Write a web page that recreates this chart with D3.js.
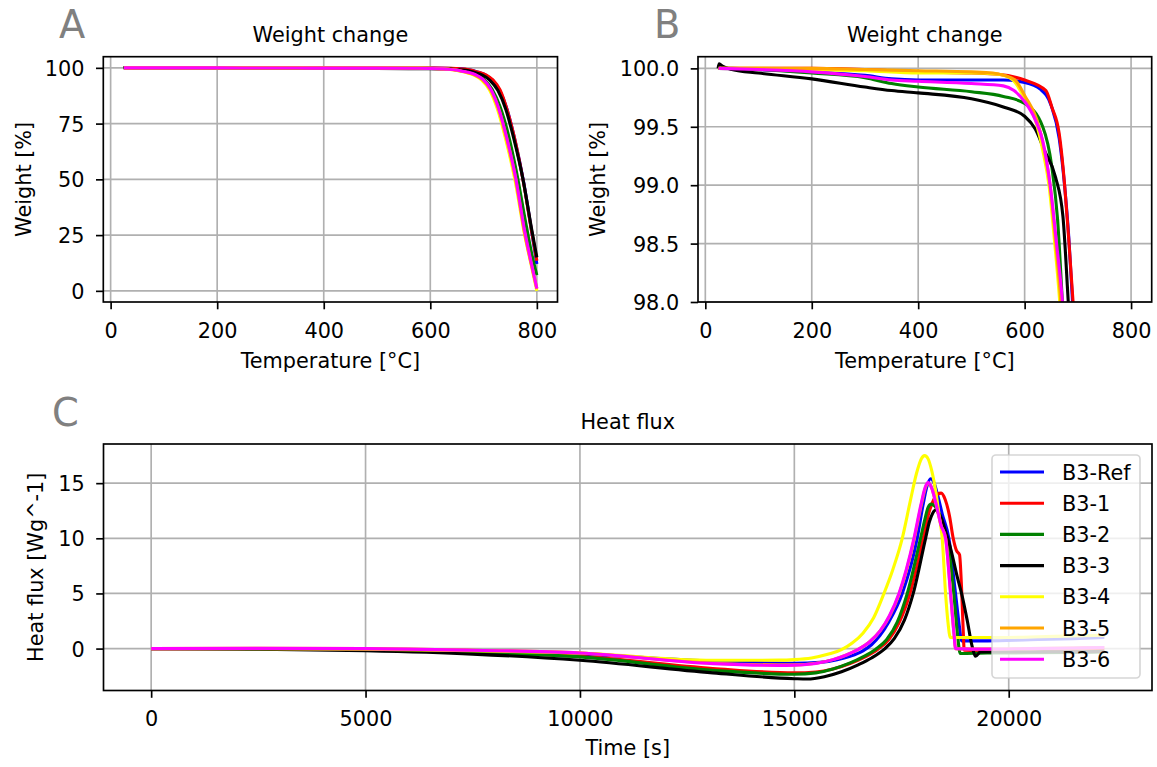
<!DOCTYPE html>
<html>
<head>
<meta charset="utf-8">
<script src="https://cdn.jsdelivr.net/npm/d3@7"></script>
<style>
  body { margin: 0; background: #fff; }
  svg text { font-family: 'DejaVu Sans', sans-serif; }
</style>
</head>
<body>
<div id="chart"></div>
<script>
/*
 * Data
 */

const seriesNames = ['B3-Ref', 'B3-1', 'B3-2', 'B3-3', 'B3-4', 'B3-5', 'B3-6']
const seriesColors = ['blue', 'red', 'green', 'black', 'yellow', 'orange', 'magenta']

// weight [%] vs temperature [°C]
const weightRef = [[25, 100.0], [50, 100.0], [100, 99.99], [200, 99.97], [300, 99.94], [350, 99.91], [400, 99.9], [500, 99.9], [560, 99.9], [600, 99.88], [630, 99.82], [650, 99.68], [665, 99.4], [675, 99.0], [683, 98.55], [690, 98.0], [704, 96.8], [717, 94.4], [730, 90], [744, 81.5], [759, 67.5], [775, 49], [790, 27], [800, 12]]
const weight1 = [[25, 100.0], [100, 100.0], [200, 100.0], [300, 99.99], [400, 99.97], [500, 99.96], [550, 99.95], [600, 99.9], [640, 99.81], [651, 99.67], [665, 99.44], [675, 99.01], [682, 98.59], [691, 98.0], [705, 96.8], [718, 94.5], [731, 90.1], [745, 80.5], [760, 66.5], [775, 48.5], [790, 27], [800, 13.5]]
const weight2 = [[25, 100.0], [100, 99.99], [200, 99.96], [300, 99.92], [350, 99.87], [400, 99.84], [500, 99.8], [560, 99.76], [600, 99.7], [634, 99.5], [651, 99.16], [662, 98.7], [671, 98.0], [686, 96.9], [701, 94.7], [716, 90.4], [731, 82.5], [746, 70.5], [762, 53], [778, 32], [790, 17], [800, 7]]
const weight3 = [[24, 100.0], [26, 100.04], [32, 100.02], [50, 99.99], [100, 99.96], [200, 99.91], [300, 99.84], [350, 99.81], [400, 99.79], [500, 99.74], [560, 99.67], [600, 99.59], [620, 99.48], [637, 99.3], [658, 99.07], [672, 98.73], [682, 98.0], [697, 96.8], [712, 94.4], [727, 89.8], [742, 81.2], [757, 68], [774, 50], [790, 28], [800, 15]]
const weight4 = [[25, 100.0], [100, 100.0], [200, 99.99], [300, 99.98], [400, 99.96], [500, 99.96], [550, 99.95], [578, 99.9], [598, 99.76], [620, 99.56], [634, 99.3], [646, 98.99], [656, 98.53], [666, 98.0], [681, 96.9], [696, 94.65], [711, 90.15], [726, 81.5], [741, 68.5], [759, 49.6], [777, 25.3], [790, 11], [800, 0]]
const weight5 = [[25, 100.0], [100, 100.0], [200, 100.0], [300, 99.99], [400, 99.98], [500, 99.97], [540, 99.96], [561, 99.94], [582, 99.9], [601, 99.76], [623, 99.56], [637, 99.3], [648, 98.99], [658, 98.53], [668, 98.0], [683, 96.9], [698, 94.7], [713, 90.3], [728, 81.8], [743, 68.8], [760, 50.5], [777, 26], [790, 11.5], [800, 1]]
const weight6 = [[25, 100.0], [100, 99.99], [200, 99.97], [300, 99.93], [350, 99.9], [400, 99.89], [500, 99.87], [560, 99.85], [580, 99.81], [601, 99.71], [620, 99.56], [634, 99.38], [648, 99.0], [660, 98.5], [671, 98.0], [685, 96.9], [699, 94.8], [713, 90.6], [728, 82], [743, 69], [760, 51], [777, 27], [790, 12], [800, 1]]

// heat flux [W/g] vs time [s]
const fluxRef = [[0, 0], [2500, 0], [5000, -0.08], [7500, -0.25], [10000, -0.5], [13100, -1.15], [15000, -1.33], [15600, -1.25], [16000, -1.02], [16300, -0.7], [16600, -0.2], [16800, 0.35], [17000, 1.2], [17200, 2.4], [17517, 5], [17866, 10], [18000, 13], [18100, 14.8], [18178, 15.4], [18260, 15.0], [18350, 13.8], [18450, 12.2], [18604, 10], [18759, 5], [18850, 2], [18900, 0.7], [19500, 0.7], [20500, 0.8], [21500, 0.9], [22230, 1.0]]
const flux1 = [[0, 0], [2500, -0.02], [5000, -0.1], [7500, -0.35], [10000, -0.7], [13100, -1.8], [15000, -2.2], [15500, -2.12], [15900, -1.85], [16300, -1.35], [16650, -0.75], [16950, -0.05], [17200, 0.8], [17450, 2.4], [17696, 5], [18006, 10], [18130, 12.2], [18250, 13.5], [18340, 14.0], [18425, 14.1], [18520, 13.5], [18620, 12], [18705, 10], [18780, 8.9], [18853, 8.5], [18900, 5.5], [18940, 1.5], [18962, -0.15], [19500, -0.2], [20500, -0.2], [21500, -0.15], [22230, -0.1]]
const flux2 = [[0, 0], [2500, -0.02], [5000, -0.1], [7500, -0.35], [10000, -0.75], [13100, -1.97], [15000, -2.33], [15500, -2.2], [15900, -1.85], [16300, -1.3], [16600, -0.75], [16900, -0.05], [17150, 0.8], [17400, 2.4], [17634, 5], [17944, 10], [18050, 11.8], [18120, 12.8], [18192, 13.1], [18280, 12.9], [18380, 12.1], [18480, 11], [18565, 10], [18720, 5], [18800, 1.5], [18870, -0.45], [19500, -0.4], [20500, -0.38], [21500, -0.35], [22230, -0.3]]
const flux3 = [[0, 0], [2500, -0.05], [5000, -0.2], [7500, -0.5], [10000, -1.06], [13100, -2.2], [15000, -2.73], [15300, -2.76], [15700, -2.55], [16100, -2.1], [16500, -1.45], [16800, -0.85], [17100, -0.05], [17330, 0.9], [17570, 2.6], [17773, 5], [18061, 10], [18150, 11.5], [18230, 12.3], [18294, 12.57], [18370, 12.3], [18450, 11.6], [18530, 10.6], [18650, 9], [18800, 6.5], [18900, 5], [19030, 2.6], [19147, 0.2], [19226, -0.7], [19343, -0.3], [20500, -0.3], [21500, -0.3], [22230, -0.25]]
const flux4 = [[0, 0], [2500, 0], [5000, -0.05], [7500, -0.2], [10000, -0.4], [13100, -1.06], [14640, -1.05], [15000, -1.0], [15400, -0.85], [15800, -0.5], [16100, -0.1], [16350, 0.5], [16600, 1.4], [16850, 2.8], [17090, 5], [17300, 7.2], [17517, 10], [17700, 13.3], [17850, 15.9], [17960, 17.2], [18038, 17.5], [18120, 17.2], [18200, 16.2], [18300, 14.2], [18380, 12], [18449, 10], [18527, 5], [18580, 2.5], [18640, 1.0], [19500, 1.0], [20500, 1.05], [21500, 1.15], [22230, 1.2]]
const flux5 = [[0, 0], [2500, 0.02], [5000, 0], [7500, -0.15], [10000, -0.4], [13100, -1.33], [15000, -1.48], [15500, -1.33], [15900, -1.0], [16200, -0.6], [16500, -0.05], [16750, 0.6], [17000, 1.6], [17230, 3.0], [17450, 5], [17800, 10], [17960, 13], [18060, 14.6], [18120, 15], [18200, 14.6], [18300, 13.2], [18420, 11.2], [18530, 10], [18645, 5], [18720, 1.5], [18765, 0], [19500, -0.05], [20500, 0], [21500, 0.05], [22230, 0.1]]
const flux6 = [[0, 0], [2500, 0.02], [5000, 0], [7500, -0.15], [10000, -0.4], [13100, -1.36], [14640, -1.52], [15000, -1.5], [15500, -1.35], [15900, -1.0], [16200, -0.6], [16500, -0.05], [16750, 0.6], [17000, 1.6], [17220, 3.0], [17440, 5], [17790, 10], [17950, 13], [18050, 14.6], [18115, 15.05], [18200, 14.6], [18300, 13.2], [18420, 11.2], [18527, 10], [18643, 5], [18720, 1.5], [18760, 0], [19500, -0.05], [20500, 0], [21500, 0.05], [22230, 0.1]]

const tempTicks = [0, 200, 400, 600, 800]
const weightTicksA = [0, 25, 50, 75, 100]
const weightTicksB = [98.0, 98.5, 99.0, 99.5, 100.0]
const timeTicks = [0, 5000, 10000, 15000, 20000]
const fluxTicks = [0, 5, 10, 15]

const weightData = [weightRef, weight1, weight2, weight3, weight4, weight5, weight6]
const fluxData = [fluxRef, flux1, flux2, flux3, flux4, flux5, flux6]


/*
 * Initialize SVG
 */

const w = 1157
const h = 767
const fontSize = 20.8
const lw = 1.67

const svg = d3.select('#chart')
  .append('svg')
  .attr('width', w)
  .attr('height', h)


function drawPanel(cfg) {
  const x = d3.scaleLinear().domain(cfg.xDomain).range([cfg.left, cfg.right])
  const y = d3.scaleLinear().domain(cfg.yDomain).range([cfg.bottom, cfg.top])
  const g = svg.append('g')

  g.append('clipPath')
    .attr('id', cfg.id)
    .append('rect')
    .attr('x', cfg.left)
    .attr('y', cfg.top)
    .attr('width', cfg.right - cfg.left)
    .attr('height', cfg.bottom - cfg.top)

  // grid
  g.append('g')
    .selectAll('line')
    .data(cfg.xTicks)
    .join('line')
    .attr('x1', d => x(d))
    .attr('x2', d => x(d))
    .attr('y1', cfg.top)
    .attr('y2', cfg.bottom)
    .style('stroke', '#b0b0b0')
    .style('stroke-width', lw)
  g.append('g')
    .selectAll('line')
    .data(cfg.yTicks)
    .join('line')
    .attr('x1', cfg.left)
    .attr('x2', cfg.right)
    .attr('y1', d => y(d))
    .attr('y2', d => y(d))
    .style('stroke', '#b0b0b0')
    .style('stroke-width', lw)

  // curves
  const line = d3.line()
    .x(d => x(d[0]))
    .y(d => y(d[1]))
    .curve(d3.curveMonotoneX)

  g.append('g')
    .attr('clip-path', `url(#${cfg.id})`)
    .selectAll('path')
    .data(cfg.series)
    .join('path')
    .attr('d', d => line(d))
    .style('fill', 'none')
    .style('stroke', (d, i) => seriesColors[i])
    .style('stroke-width', 3.1)
    .style('stroke-linejoin', 'round')

  // axes
  const xAxis = g.append('g')
    .attr('transform', `translate(0,${cfg.bottom})`)
    .call(d3.axisBottom(x).tickValues(cfg.xTicks).tickFormat(d3.format('d')).tickSize(7.3).tickPadding(13.9))
  const yAxis = g.append('g')
    .attr('transform', `translate(${cfg.left},0)`)
    .call(d3.axisLeft(y).tickValues(cfg.yTicks).tickFormat(cfg.yFormat).tickSize(7.3).tickPadding(11.5))

  ;[xAxis, yAxis].forEach(ax => {
    ax.select('.domain').remove()
    ax.selectAll('.tick line').style('stroke', 'black').style('stroke-width', lw)
    ax.selectAll('.tick text')
      .style('font-size', fontSize + 'px')
      .style('fill', 'black')
  })
  yAxis.selectAll('.tick text').attr('dy', '0.36em')

  // frame
  g.append('rect')
    .attr('x', cfg.left)
    .attr('y', cfg.top)
    .attr('width', cfg.right - cfg.left)
    .attr('height', cfg.bottom - cfg.top)
    .style('fill', 'none')
    .style('stroke', 'black')
    .style('stroke-width', lw)

  const cx = (cfg.left + cfg.right) / 2

  g.append('text')
    .attr('x', cx)
    .attr('y', cfg.top - 15)
    .attr('text-anchor', 'middle')
    .style('font-size', fontSize + 'px')
    .text(cfg.title)

  g.append('text')
    .attr('x', cx)
    .attr('y', cfg.xLabelY)
    .attr('text-anchor', 'middle')
    .style('font-size', fontSize + 'px')
    .text(cfg.xLabel)

  g.append('text')
    .attr('transform', `translate(${cfg.yLabelX},${(cfg.top + cfg.bottom) / 2}) rotate(-90)`)
    .attr('text-anchor', 'middle')
    .style('font-size', fontSize + 'px')
    .text(cfg.yLabel)

  g.append('text')
    .attr('x', cfg.letterX)
    .attr('y', cfg.letterY)
    .style('font-size', '38.4px')
    .style('fill', '#808080')
    .text(cfg.letter)

  return { x, y }
}


drawPanel({
  id: 'clipA', letter: 'A', letterX: 59, letterY: 38,
  left: 103.3, right: 557.5, top: 56.7, bottom: 302,
  xDomain: [-13.75, 838.75], yDomain: [-5, 105],
  xTicks: tempTicks, yTicks: weightTicksA, yFormat: d3.format('d'),
  title: 'Weight change', xLabel: 'Temperature [°C]', xLabelY: 368,
  yLabel: 'Weight [%]', yLabelX: 31,
  series: weightData
})

drawPanel({
  id: 'clipB', letter: 'B', letterX: 654, letterY: 38,
  left: 698, right: 1151.7, top: 56.7, bottom: 302,
  xDomain: [-13.75, 838.75], yDomain: [98, 100.1],
  xTicks: tempTicks, yTicks: weightTicksB, yFormat: d3.format('.1f'),
  title: 'Weight change', xLabel: 'Temperature [°C]', xLabelY: 368,
  yLabel: 'Weight [%]', yLabelX: 605,
  series: weightData
})

drawPanel({
  id: 'clipC', letter: 'C', letterX: 52, letterY: 426,
  left: 103.5, right: 1152, top: 444, bottom: 690.5,
  xDomain: [-1111.5, 23341.5], yDomain: [-3.8, 18.55],
  xTicks: timeTicks, yTicks: fluxTicks, yFormat: d3.format('d'),
  title: 'Heat flux', xLabel: 'Time [s]', xLabelY: 755,
  yLabel: 'Heat flux [Wg^-1]', yLabelX: 43,
  series: fluxData
})


/*
 * Legend
 */
const legend = svg.append('g').attr('transform', 'translate(992,455)')

legend.append('rect')
  .attr('width', 148)
  .attr('height', 223)
  .attr('rx', 4)
  .style('fill', 'white')
  .style('fill-opacity', 0.8)
  .style('stroke', '#cccccc')
  .style('stroke-opacity', 0.8)
  .style('stroke-width', lw)

const items = legend.selectAll('g.item')
  .data(seriesNames)
  .join('g')
  .attr('class', 'item')
  .attr('transform', (d, i) => `translate(0,${17 + i * 31.2})`)

items.append('line')
  .attr('x1', 8)
  .attr('x2', 52)
  .style('stroke', (d, i) => seriesColors[i])
  .style('stroke-width', 3.1)

items.append('text')
  .attr('x', 70)
  .attr('dy', '0.36em')
  .style('font-size', fontSize + 'px')
  .text(d => d)
</script>
</body>
</html>
